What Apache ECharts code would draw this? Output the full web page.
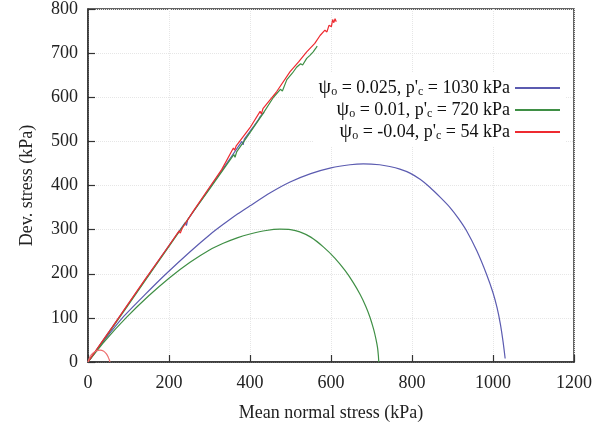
<!DOCTYPE html>
<html>
<head>
<meta charset="utf-8">
<script src="https://cdn.jsdelivr.net/npm/echarts@6/dist/echarts.min.js"></script>
<style>html,body{margin:0;padding:0;background:#fff}#c{width:615px;height:430px}</style>
</head>
<body>
<div id="c"></div>
<script>
// x ticks / y ticks
const xTicks = [0, 200, 400, 600, 800, 1000, 1200];
const yTicks = [0, 100, 200, 300, 400, 500, 600, 700, 800];

const seriesNames = ["ψo = 0.025, p'c = 1030 kPa", "ψo = 0.01, p'c = 720 kPa", "ψo = -0.04, p'c = 54 kPa"];
const legendRich = [
  "{psi|ψ}{sub|o} = 0.025, p'{sub|c} = 1030 kPa",
  "{psi|ψ}{sub|o} = 0.01, p'{sub|c} = 720 kPa",
  "{psi|ψ}{sub|o} = -0.04, p'{sub|c} = 54 kPa"
];

// psi = 0.025 (blue): straight path and curved path
const blueLine = [[0,0],[50,66],[100,132],[150,198],[200,264],[240,316],[243,309],[246,322],[300,394],[350,460],[380,500],[383,492],[386,505],[410,535],[420,548],[425,556],[435,566]];
const blueCurve = [[0,0],[40,49],[85,100],[140,152],[193,200],[252,250],[300,288],[334,312],[370,336],[400,354],[449,383],[499,408],[550,427],[600,440],[647,447],[680,449],[720,447],[745,443],[770,437],[795,428],[820,414],[844,396],[870,373],[894,350],[915,325],[935,297],[960,252],[984,199],[1000,157],[1010,123],[1018,87],[1025,45],[1030,8]];

// psi = 0.01 (green)
const greenLine = [[0,0],[50,64],[100,130],[150,196],[200,262],[250,328],[300,392],[340,444],[360,470],[363,464],[367,476],[400,520],[430,560],[458,600],[475,618],[480,614],[491,640],[505,655],[515,668],[525,676],[530,673],[540,688],[548,695],[556,703],[560,701],[563,712],[566,716]];
const greenCurve = [[0,0],[42,48],[95,101],[150,150],[200,190],[252,226],[300,254],[334,269],[370,282],[400,290],[440,298],[474,301],[500,300],[523,295],[550,283],[581,261],[610,235],[635,207],[655,180],[672,153],[686,126],[696,102],[705,75],[711,52],[715,32],[717,14],[718,0]];

// psi = -0.04 (red)
const redLine = [[0,0],[30,40],[60,79],[100,133],[140,186],[180,238],[200,264],[225,297],[228,292],[232,302],[260,342],[300,396],[330,436],[359,485],[362,480],[366,490],[400,531],[425,568],[428,562],[432,574],[466,613],[499,658],[520,680],[540,703],[560,722],[573,740],[585,752],[590,748],[595,763],[598,766],[601,760],[604,776],[607,769],[610,778],[613,771]];
const redArc = [[0,0],[5,12],[12,20],[20,25],[30,27],[38,25],[45,19],[50,11],[53,4],[54,0]];

const colors = ['#5b5bb0', '#3f8f45', '#ee2a30'];
const FONT = 'Liberation Serif';

function mk(name, data, color, z, smooth) {
  return {
    name: name, type: 'line', data: data, symbol: 'none', showSymbol: false,
    smooth: smooth,
    lineStyle: { color: color, width: 1.2 }, itemStyle: { color: color },
    z: z, animation: false
  };
}

const chart = echarts.init(document.getElementById('c'));
chart.setOption({
  animation: false,
  backgroundColor: '#fff',
  grid: { left: 88, right: 41, top: 7, bottom: 68, show: true, borderColor: '#333', borderWidth: 1.5, backgroundColor: 'transparent' },
  xAxis: {
    type: 'value', min: xTicks[0], max: xTicks[xTicks.length - 1], interval: 200,
    name: 'Mean normal stress (kPa)', nameLocation: 'middle', nameGap: 42,
    nameTextStyle: { fontFamily: FONT, fontSize: 18, color: '#222' },
    axisLine: { show: true, lineStyle: { color: '#333', width: 1.5 } },
    axisTick: { show: true, inside: true, length: 7, lineStyle: { color: '#333', width: 1.2 } },
    axisLabel: { fontFamily: FONT, fontSize: 18, color: '#222', margin: 12, formatter: function (v) { return String(v); } },
    splitLine: { show: true, lineStyle: { color: '#e6e6e6', type: 'dotted', width: 1 } }
  },
  yAxis: {
    type: 'value', min: yTicks[0], max: yTicks[yTicks.length - 1], interval: 100,
    name: 'Dev. stress (kPa)', nameLocation: 'middle', nameGap: 52,
    nameTextStyle: { fontFamily: FONT, fontSize: 18, color: '#222' },
    axisLine: { show: true, lineStyle: { color: '#333', width: 1.5 } },
    axisTick: { show: true, inside: true, length: 7, lineStyle: { color: '#333', width: 1.2 } },
    axisLabel: { fontFamily: FONT, fontSize: 18, color: '#222', margin: 10, formatter: function (v) { return String(v); } },
    splitLine: { show: true, lineStyle: { color: '#e6e6e6', type: 'dotted', width: 1 } }
  },
  legend: {
    data: seriesNames,
    orient: 'vertical', align: 'right', right: 50, top: 73,
    icon: 'rect', itemWidth: 45, itemHeight: 2, itemGap: 2,
    backgroundColor: '#fff',
    formatter: function (n) { return legendRich[seriesNames.indexOf(n)]; },
    textStyle: {
      fontFamily: FONT, fontSize: 18, color: '#111', lineHeight: 20,
      rich: {
        psi: { fontFamily: FONT, fontSize: 20, color: '#111', lineHeight: 20 },
        sub: { fontFamily: FONT, fontSize: 12, color: '#111', lineHeight: 8, verticalAlign: 'bottom' }
      }
    }
  },
  series: [
    mk(seriesNames[0], blueLine, colors[0], 2, false),
    mk(seriesNames[0], blueCurve, colors[0], 2, 0.2),
    mk(seriesNames[1], greenLine, colors[1], 3, false),
    mk(seriesNames[1], greenCurve, colors[1], 3, 0.2),
    mk(seriesNames[2], redLine, colors[2], 4, false),
    mk(seriesNames[2], redArc, '#ee7070', 4, 0.4)
  ]
});
</script>
</body>
</html>
